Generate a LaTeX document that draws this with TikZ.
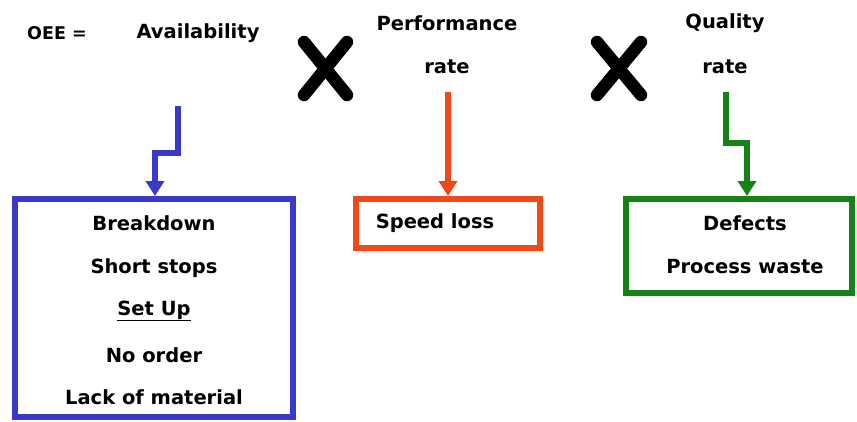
\documentclass[tikz,border=0pt]{standalone}
\usepackage{fontspec}
\setmainfont{DejaVu Sans}
\usetikzlibrary{arrows.meta}
\definecolor{cblue}{RGB}{58,58,200}
\definecolor{cred}{RGB}{240,72,24}
\definecolor{cgreen}{RGB}{20,130,20}
\tikzset{
  lbl/.style={font=\bfseries\fontsize{19.5}{24}\selectfont, inner sep=0pt, anchor=center},
  boxstyle/.style={draw, line width=6pt, rectangle, inner sep=0pt},
  conn/.style={line width=5.5pt, -{Triangle[width=18pt,length=15pt]}},
  timesx/.style={line width=12.5pt, line cap=round, black}
}
\begin{document}
\begin{tikzpicture}[x=1pt,y=-1pt]
\path[use as bounding box, fill=white] (0,0) rectangle (857,421);

% top texts
\node[lbl, font=\bfseries\fontsize{17.5}{20}\selectfont] (oee) at (57,33) {OEE =};
\node[lbl] (avail) at (198,33) {Availability};
\node[lbl] (perf) at (447,23) {Performance};
\node[lbl] (prate) at (447,67) {rate};
\node[lbl] (qual) at (725,23) {Quality};
\node[lbl] (qrate) at (725,67) {rate};

% multiplication signs
\draw[timesx] (304,42) -- (347,95);
\draw[timesx] (347,42) -- (304,95);
\draw[timesx] (597,42) -- (641,95);
\draw[timesx] (641,42) -- (597,95);

% boxes
\node[boxstyle, draw=cblue, minimum width=278pt, minimum height=218pt] (bbox) at (154,308) {};
\node[boxstyle, draw=cred, minimum width=184pt, minimum height=49pt] (rbox) at (448,223.5) {};
\node[boxstyle, draw=cgreen, minimum width=226pt, minimum height=94pt] (gbox) at (739,246) {};

% box texts
\node[lbl] (t1) at (154,223) {Breakdown};
\node[lbl] (t2) at (154,268) {Short stops};
\node[lbl] (t3) at (154,311) {\underline{Set Up}};
\node[lbl] (t4) at (154,355) {No order};
\node[lbl] (t5) at (154,397) {Lack of material};
\node[lbl] (t6) at (435,223) {Speed loss};
\node[lbl] (t7) at (745,223) {Defects};
\node[lbl] (t8) at (745,267) {Process waste};

% connectors
\coordinate (a1) at (178,106);
\coordinate (a2) at (155,153);
\draw[conn, cblue] (a1) |- (a2) -- (a2 |- bbox.north);
\coordinate (r1) at (448,92);
\draw[conn, cred] (r1) -- (r1 |- rbox.north);
\coordinate (g1) at (726,92);
\coordinate (g2) at (747,143);
\draw[conn, cgreen] (g1) |- (g2) -- (g2 |- gbox.north);
\end{tikzpicture}
\end{document}
